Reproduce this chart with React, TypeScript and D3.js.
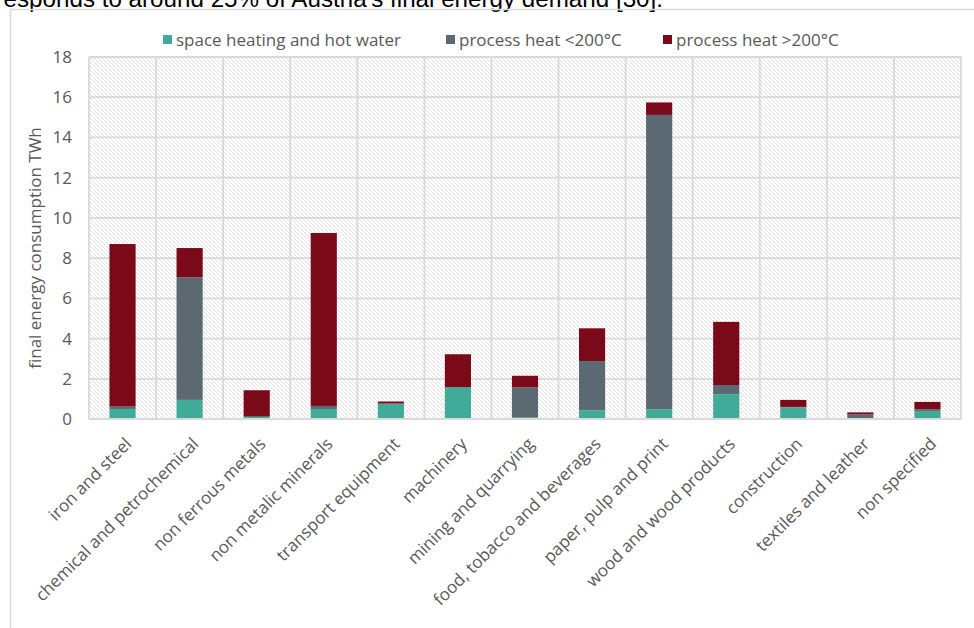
import React from "react";
import * as d3 from "d3";

const categories = [
  "iron and steel",
  "chemical and petrochemical",
  "non ferrous metals",
  "non metalic minerals",
  "transport equipment",
  "machinery",
  "mining and quarrying",
  "food, tobacco and beverages",
  "paper, pulp and print",
  "wood and wood products",
  "construction",
  "textiles and leather",
  "non specified",
];

const spaceHeating = [0.5, 0.95, 0.1, 0.5, 0.75, 1.58, 0.07, 0.43, 0.48, 1.23, 0.58, 0.03, 0.4];
const processLow = [0.12, 6.1, 0.05, 0.15, 0.02, 0.0, 1.5, 2.45, 14.64, 0.46, 0.02, 0.2, 0.08];
const processHigh = [8.08, 1.45, 1.28, 8.6, 0.1, 1.64, 0.58, 1.63, 0.62, 3.14, 0.35, 0.1, 0.37];

const seriesNames = ["space heating and hot water", "process heat <200°C", "process heat >200°C"];
const seriesColors = ["#41ab9a", "#5b6973", "#7a0a1a"];
const yTicks = [0, 2, 4, 6, 8, 10, 12, 14, 16, 18];
const yLabel = "final energy consumption TWh";
const topText = "corresponds to around 25% of Austria's final energy demand [30].";

const W = 974;
const H = 628;
const plot = { left: 89, right: 961, top: 57, bottom: 419 };

export default function App() {
  const keys = ["a", "b", "c"];
  const rows = categories.map((c, i) => ({
    cat: c,
    a: spaceHeating[i],
    b: processLow[i],
    c: processHigh[i],
  }));
  const stacked = d3.stack<any>().keys(keys)(rows);

  const x = d3.scaleBand().domain(categories).range([plot.left, plot.right]).padding(0);
  const y = d3.scaleLinear().domain([0, 18]).range([plot.bottom, plot.top]);
  const bw = x.bandwidth() * 0.39;
  const font = "'Open Sans', 'Noto Sans', sans-serif";
  const grey = "#595959";
  const gridColor = "#d9d9d9";

  const legendItems = [
    { x: 163, name: seriesNames[0], color: seriesColors[0] },
    { x: 446, name: seriesNames[1], color: seriesColors[1] },
    { x: 663, name: seriesNames[2], color: seriesColors[2] },
  ];

  return (
    <svg
      width={W}
      height={H}
      style={{ position: "fixed", left: 0, top: 0, background: "#fff" }}
    >
      <defs>
        <pattern id="hatch" patternUnits="userSpaceOnUse" width="4" height="4">
          <rect width="4" height="4" fill="#ffffff" />
          <path d="M-1,-1 L5,5 M-1,3 L1,5 M3,-1 L5,1" stroke="#dedede" strokeWidth="0.9" />
        </pattern>
      </defs>
      <rect x={0} y={0} width={W} height={H} fill="#fff" />
      <text
        x={663}
        y={7}
        textAnchor="end"
        fontFamily="Arial, 'Liberation Sans', sans-serif"
        fontSize={24.2}
        fill="#000"
      >
        {topText}
      </text>
      {/* outer chart border */}
      <path d={`M10.5,${H} L10.5,9.5 L${W},9.5`} fill="none" stroke={gridColor} strokeWidth={1.5} />

      {/* legend */}
      {legendItems.map((d) => (
        <g key={d.name}>
          <rect x={d.x} y={35} width={9} height={9} fill={d.color} />
          <text x={d.x + 13} y={45.5} fontFamily={font} fontSize={17} fill={grey}>
            {d.name}
          </text>
        </g>
      ))}

      {/* plot background */}
      <rect
        x={plot.left}
        y={plot.top}
        width={plot.right - plot.left}
        height={plot.bottom - plot.top}
        fill="url(#hatch)"
      />
      {/* horizontal grid */}
      {yTicks.map((t) => (
        <line
          key={"h" + t}
          x1={plot.left}
          x2={plot.right}
          y1={y(t)}
          y2={y(t)}
          stroke={gridColor}
          strokeWidth={1.8}
        />
      ))}
      {/* vertical grid */}
      {categories.map((c) => (
        <line
          key={"v" + c}
          x1={x(c)!}
          x2={x(c)!}
          y1={plot.top}
          y2={plot.bottom}
          stroke={gridColor}
          strokeWidth={1.8}
        />
      ))}
      <line x1={plot.right} x2={plot.right} y1={plot.top} y2={plot.bottom} stroke={gridColor} strokeWidth={1.8} />

      {/* bars */}
      {stacked.map((s, si) => (
        <g key={s.key} fill={seriesColors[si]}>
          {s.map((d, i) => {
            const cx = x(categories[i])! + x.bandwidth() / 2;
            return (
              <rect
                key={i}
                x={cx - bw / 2}
                y={y(d[1])}
                width={bw}
                height={Math.max(0, y(d[0]) - y(d[1]))}
              />
            );
          })}
        </g>
      ))}

      {/* baseline */}
      <line x1={plot.left} x2={plot.right} y1={plot.bottom} y2={plot.bottom} stroke={gridColor} strokeWidth={2} />

      {/* y ticks */}
      {yTicks.map((t) => (
        <text
          key={"t" + t}
          x={72}
          y={y(t)}
          dy="0.35em"
          textAnchor="end"
          fontFamily={font}
          fontSize={17}
          fill={grey}
        >
          {t}
        </text>
      ))}
      <text
        transform={`translate(41,248) rotate(-90)`}
        textAnchor="middle"
        fontFamily={font}
        fontSize={17}
        fill={grey}
      >
        {yLabel}
      </text>

      {/* x labels */}
      {categories.map((c) => {
        const cx = x(c)! + x.bandwidth() / 2;
        return (
          <text
            key={"x" + c}
            transform={`translate(${cx + 10},${plot.bottom + 26}) rotate(-45)`}
            textAnchor="end"
            fontFamily={font}
            fontSize={17}
            fill={grey}
          >
            {c}
          </text>
        );
      })}
    </svg>
  );
}
